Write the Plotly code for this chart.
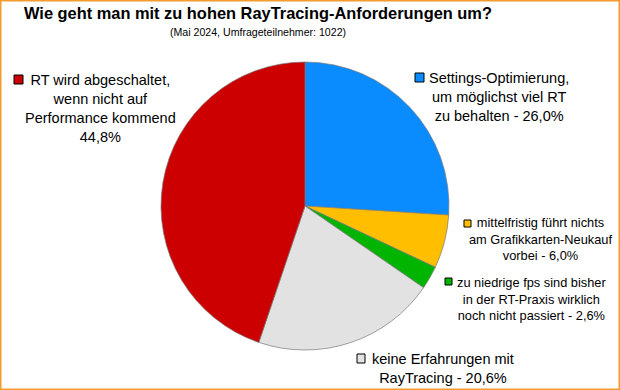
import plotly.graph_objects as go

W, H = 620, 390

# ---- data ----
categories = [
    "Settings-Optimierung, um möglichst viel RT zu behalten",
    "mittelfristig führt nichts am Grafikkarten-Neukauf vorbei",
    "zu niedrige fps sind bisher in der RT-Praxis wirklich noch nicht passiert",
    "keine Erfahrungen mit RayTracing",
    "RT wird abgeschaltet, wenn nicht auf Performance kommend",
]
values = [26.0, 6.0, 2.6, 20.6, 44.8]
label_lines = [
    ["Settings-Optimierung,", "um möglichst viel RT", "zu behalten"],
    ["mittelfristig führt nichts", "am Grafikkarten-Neukauf", "vorbei"],
    ["zu niedrige fps sind bisher", "in der RT-Praxis wirklich", "noch nicht passiert"],
    ["keine Erfahrungen mit", "RayTracing"],
    ["RT wird abgeschaltet,", "wenn nicht auf", "Performance kommend"],
]
value_on_new_line = [False, False, False, False, True]
colors = ["#0a8cff", "#ffbf00", "#00b400", "#e2e2e2", "#cc0000"]

title = "Wie geht man mit zu hohen RayTracing-Anforderungen um?"
subtitle = "(Mai 2024, Umfrageteilnehmer: 1022)"

# ---- layout helpers (pixel -> paper) ----
def px(x):
    return x / W

def py(y):
    return 1 - y / H

# label block layout: (center x, center y, font size, square box x0, y0, x1, y1)
label_layout = [
    (499, 97, 14.5, (415, 73, 424, 82)),
    (540, 239, 12.8, (464, 220, 471, 227)),
    (531, 299, 12.8, (445, 278, 452, 285)),
    (443, 368, 14.5, (357, 354, 365, 363)),
    (100, 108, 14.5, (14, 75, 23, 84)),
]

fig = go.Figure(
    go.Pie(
        labels=categories,
        values=values,
        sort=False,
        direction="clockwise",
        rotation=0,
        marker=dict(colors=colors, line=dict(color="#7a7a7a", width=0.7)),
        textinfo="none",
        hoverinfo="label+percent",
        domain=dict(x=[px(161), px(449)], y=[py(350), py(62)]),
        showlegend=False,
    )
)

font_family = "Liberation Sans, Arial, sans-serif"
annotations = [
    dict(text="<b>" + title + "</b>", x=px(258), y=py(13), xref="paper", yref="paper",
         showarrow=False, xanchor="center", yanchor="middle",
         font=dict(family=font_family, size=16.4, color="#000000")),
    dict(text=subtitle, x=px(258), y=py(32), xref="paper", yref="paper",
         showarrow=False, xanchor="center", yanchor="middle",
         font=dict(family=font_family, size=10.6, color="#000000")),
]
shapes = [
    dict(type="rect", xref="paper", yref="paper",
         x0=px(0.75), x1=px(W - 0.75), y0=py(H - 0.75), y1=py(0.75),
         line=dict(color="#f39c2e", width=1.5), fillcolor="rgba(0,0,0,0)", layer="above"),
]

for lines, val, newline, col, (cx, cy, fs, box) in zip(
        label_lines, values, value_on_new_line, colors, label_layout):
    vtxt = f"{val:.1f}".replace(".", ",") + "%"
    if newline:
        text_lines = lines + [vtxt]
    else:
        text_lines = lines[:-1] + [lines[-1] + " - " + vtxt]
    annotations.append(dict(
        text="<br>".join(text_lines), x=px(cx), y=py(cy), xref="paper", yref="paper",
        showarrow=False, xanchor="center", yanchor="middle", align="center",
        font=dict(family=font_family, size=fs, color="#000000")))
    x0, y0, x1, y1 = box
    shapes.append(dict(type="rect", xref="paper", yref="paper",
                       x0=px(x0), x1=px(x1), y0=py(y1), y1=py(y0),
                       line=dict(color="#000000", width=1), fillcolor=col))

fig.update_layout(
    width=W, height=H,
    margin=dict(l=0, r=0, t=0, b=0),
    paper_bgcolor="#ffffff",
    plot_bgcolor="#ffffff",
    annotations=annotations,
    shapes=shapes,
)

fig.write_html(
    "out.html",
    config={"displayModeBar": False},
    post_script="document.body.style.margin='0';document.body.style.padding='0';",
)
